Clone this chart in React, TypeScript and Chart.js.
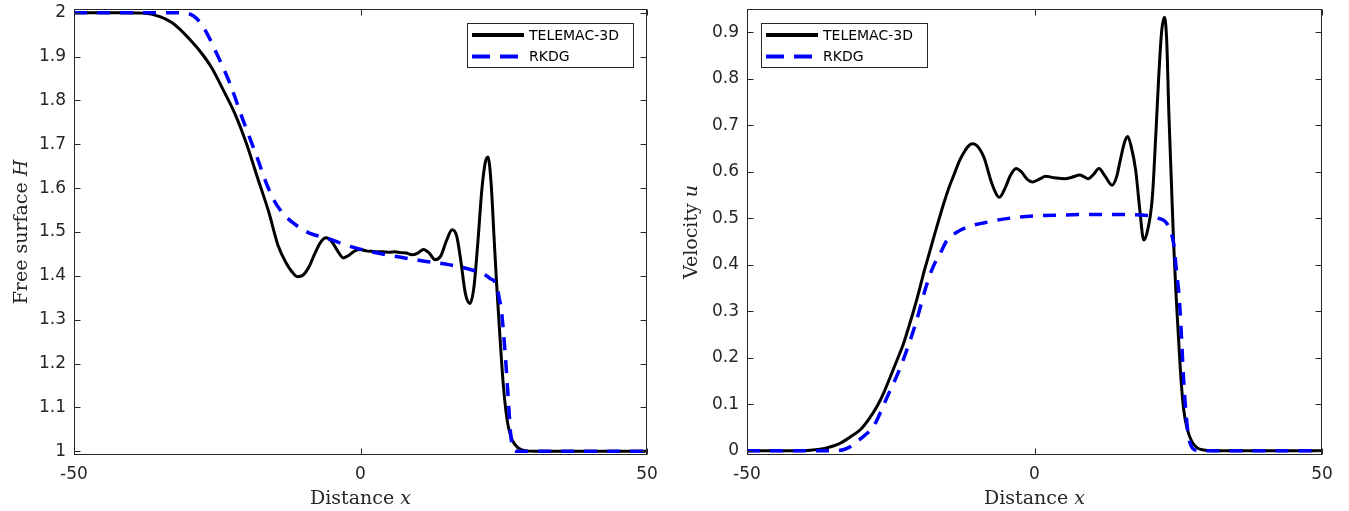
import React, { useEffect, useRef } from "react";
import { Chart, registerables } from "chart.js";

Chart.register(...registerables);

// ---------- data ----------
const xTicks = [-50, 0, 50];
const hTicks = [1, 1.1, 1.2, 1.3, 1.4, 1.5, 1.6, 1.7, 1.8, 1.9, 2];
const uTicks = [0, 0.1, 0.2, 0.3, 0.4, 0.5, 0.6, 0.7, 0.8, 0.9];

const seriesNames = ["TELEMAC-3D", "RKDG"];

const telemacHx = [
  -50, -42, -38, -35, -33, -31.5, -30, -28, -26, -24, -22, -20, -18, -16, -14.4, -13, -12, -11, -10, -9,
  -8, -7, -6, -5, -4, -3, -2, -1, 0, 1, 2, 3, 4, 5, 6, 7, 8, 9, 10, 11, 12, 13, 14, 15, 16, 16.8, 17.5,
  18.3, 19.1, 19.8, 20.5, 21.2, 21.8, 22.25, 22.8, 23.3, 23.75, 24.3, 24.9, 25.4, 25.8, 26.5, 27.5, 29, 31, 50,
];
const telemacH = [
  2.0, 2.0, 1.999, 1.991, 1.978, 1.962, 1.942, 1.912, 1.875, 1.825, 1.772, 1.705, 1.625, 1.545, 1.47, 1.43,
  1.41, 1.398, 1.402, 1.42, 1.45, 1.476, 1.487, 1.478, 1.457, 1.441, 1.447, 1.457, 1.46, 1.457, 1.456, 1.455,
  1.455, 1.454, 1.455, 1.453, 1.452, 1.448, 1.452, 1.46, 1.452, 1.437, 1.445, 1.48, 1.505, 1.49, 1.435, 1.36,
  1.337, 1.375, 1.48, 1.6, 1.66, 1.671, 1.61, 1.49, 1.383, 1.269, 1.155, 1.09, 1.056, 1.025, 1.008, 1.001, 1.0,
  1.0,
];

const rkdgHx = [
  -50, -32, -30.5, -29.2, -28, -26.8, -25.1, -22.8, -20.5, -18.1, -16.4, -15, -14, -13, -11.7, -10, -8.8, -6,
  -4.75, -3, -0.1, 3, 6.3, 10.4, 15.6, 20.3, 22, 22.6, 23.2, 23.75, 24.2, 24.6, 25.2, 25.8, 26.2, 26.6, 27.2, 50,
];
const rkdgH = [
  2.0, 2.0, 1.999, 1.993, 1.978, 1.953, 1.907, 1.839, 1.755, 1.672, 1.61, 1.57, 1.55, 1.535, 1.52, 1.505, 1.497,
  1.486, 1.481, 1.472, 1.461, 1.452, 1.444, 1.435, 1.425, 1.41, 1.4, 1.394, 1.39, 1.378, 1.35, 1.32, 1.231, 1.117,
  1.04, 1.008, 1.0, 1.0,
];

const telemacUx = [
  -50, -42, -39, -36.5, -35, -33.8, -32, -30.3, -28.8, -27.4, -26.2, -25.07, -23.9, -22.76, -21.9, -21.0, -20.1,
  -19.3, -18.4, -17.5, -16.6, -15.8, -14.9, -14.05, -13, -12.3, -11.5, -10.9, -10, -8.8, -7.4, -6.1, -5, -4.2,
  -3.2, -2.3, -1.2, -0.3, 1, 1.9, 3.5, 5.3, 6.5, 7.9, 9.3, 10.3, 11.2, 12.3, 13.5, 14.3, 14.9, 15.7, 16.2, 16.8,
  17.6, 18.3, 19.0, 19.6, 20.5, 21.1, 21.6, 22.1, 22.6, 23.0, 23.35, 23.8, 24.2, 24.6, 25.1, 25.5, 25.96, 26.6,
  27.4, 28.3, 29.4, 31, 50,
];
const telemacU = [
  0, 0, 0.001, 0.005, 0.01, 0.016, 0.03, 0.045, 0.068, 0.095, 0.125, 0.159, 0.195, 0.231, 0.265, 0.302, 0.342,
  0.381, 0.42, 0.46, 0.498, 0.531, 0.565, 0.592, 0.625, 0.641, 0.655, 0.66, 0.656, 0.631, 0.574, 0.545, 0.568,
  0.592, 0.607, 0.6, 0.583, 0.578, 0.585, 0.59, 0.587, 0.585, 0.588, 0.593, 0.585, 0.595, 0.607, 0.59, 0.571,
  0.59, 0.624, 0.665, 0.676, 0.655, 0.603, 0.52, 0.453, 0.47, 0.546, 0.68, 0.803, 0.9, 0.932, 0.88, 0.732, 0.58,
  0.445, 0.34, 0.231, 0.15, 0.087, 0.045, 0.019, 0.006, 0.0015, 0, 0,
];

const rkdgUx = [
  -50, -34.3, -33, -31.8, -30.9, -29.5, -28, -26.8, -25.6, -24.4, -23.3, -22.4, -21.6, -20.7, -19.85, -19, -18.1,
  -17.2, -16.4, -15.2, -13.5, -11.7, -10, -8, -6, -3, 0, 5, 10, 15, 19.6, 21.5, 22.8, 23.6, 24.2, 24.8, 25.1,
  25.5, 25.9, 26.3, 26.8, 27.5, 28.6, 50,
];
const rkdgU = [
  0, 0, 0.003, 0.01, 0.019, 0.033, 0.052, 0.082, 0.116, 0.148, 0.18, 0.21, 0.238, 0.272, 0.309, 0.347, 0.381,
  0.407, 0.424, 0.453, 0.47, 0.481, 0.487, 0.492, 0.497, 0.502, 0.505, 0.507, 0.508, 0.508, 0.506, 0.5, 0.492,
  0.474, 0.445, 0.374, 0.34, 0.26, 0.16, 0.087, 0.03, 0.005, 0, 0,
];

// ---------- styling ----------
const AXIS_COLOR = "#262626";
const TICK_FONT = { family: "'DejaVu Sans'", size: 17 };
const TITLE_SIZE = 19;
const LEGEND_FONT = "14px 'DejaVu Sans'";

type Part = { text: string; italic?: boolean };

type PanelSpec = {
  left: number;
  width: number;
  padRight: number;
  yAxisWidth: number;
  yMin: number;
  yMax: number;
  yTicks: number[];
  series: { x: number[]; y: number[] }[];
  xTitle: Part[];
  yTitle: Part[];
  yTitleGap: number;
  legendAnchor: "right" | "left";
};

const zip = (xs: number[], ys: number[]) => xs.map((x, i) => ({ x, y: ys[i] }));
const fmt = (v: number) => String(Math.round(v * 10) / 10);

function drawParts(ctx: CanvasRenderingContext2D, parts: Part[], cx: number, baseline: number) {
  const fontOf = (p: Part) => `${p.italic ? "italic " : ""}${TITLE_SIZE}px 'DejaVu Serif'`;
  let total = 0;
  const widths = parts.map((p) => {
    ctx.font = fontOf(p);
    const w = ctx.measureText(p.text).width;
    total += w;
    return w;
  });
  let x = cx - total / 2;
  ctx.textAlign = "left";
  ctx.textBaseline = "alphabetic";
  parts.forEach((p, i) => {
    ctx.font = fontOf(p);
    ctx.fillText(p.text, x, baseline);
    x += widths[i];
  });
}

function makeDecorPlugin(spec: PanelSpec) {
  return {
    id: "decor",
    afterDraw(chart: any) {
      const { ctx, chartArea: a, scales } = chart;
      const L = Math.round(a.left) + 0.5;
      const R = Math.round(a.right) - 0.5;
      const T = Math.round(a.top) + 0.5;
      const B = Math.round(a.bottom) - 0.5;
      ctx.save();
      ctx.strokeStyle = AXIS_COLOR;
      ctx.lineWidth = 1;
      ctx.setLineDash([]);
      ctx.strokeRect(L, T, R - L, B - T);
      const tl = 6;
      ctx.beginPath();
      spec.yTicks.forEach((v) => {
        const py = Math.round(scales.y.getPixelForValue(v)) + 0.5;
        ctx.moveTo(L, py);
        ctx.lineTo(L + tl, py);
        ctx.moveTo(R, py);
        ctx.lineTo(R - tl, py);
      });
      xTicks.forEach((v) => {
        const px = Math.round(scales.x.getPixelForValue(v)) + 0.5;
        ctx.moveTo(px, B);
        ctx.lineTo(px, B - tl);
        ctx.moveTo(px, T);
        ctx.lineTo(px, T + tl);
      });
      ctx.stroke();

      // axis titles
      ctx.fillStyle = AXIS_COLOR;
      drawParts(ctx, spec.xTitle, (a.left + a.right) / 2, a.bottom + 49);
      ctx.save();
      ctx.translate(a.left - spec.yTitleGap, (a.top + a.bottom) / 2);
      ctx.rotate(-Math.PI / 2);
      drawParts(ctx, spec.yTitle, 0, 0);
      ctx.restore();

      // legend
      const bw = 167;
      const bh = 45;
      const bx = spec.legendAnchor === "right" ? Math.round(a.right) - 13 - bw : Math.round(a.left) + 14;
      const by = Math.round(a.top) + 14;
      ctx.fillStyle = "#ffffff";
      ctx.fillRect(bx, by, bw, bh);
      ctx.strokeStyle = AXIS_COLOR;
      ctx.lineWidth = 1;
      ctx.strokeRect(bx + 0.5, by + 0.5, bw - 1, bh - 1);
      const rows = [by + 12, by + 33.5];
      chart.data.datasets.forEach((ds: any, i: number) => {
        const ry = rows[i];
        ctx.save();
        ctx.strokeStyle = ds.borderColor;
        ctx.lineWidth = 4;
        ctx.setLineDash(ds.borderDash ? [18, 10] : []);
        ctx.beginPath();
        ctx.moveTo(bx + 5, ry);
        ctx.lineTo(bx + 57, ry);
        ctx.stroke();
        ctx.restore();
        ctx.fillStyle = "#000000";
        ctx.font = LEGEND_FONT;
        ctx.textAlign = "left";
        ctx.textBaseline = "middle";
        ctx.fillText(ds.label, bx + 62, ry + 1);
      });
      ctx.restore();
    },
  };
}

function buildConfig(spec: PanelSpec): any {
  const [black, blue] = spec.series;
  return {
    type: "line",
    data: {
      datasets: [
        {
          label: seriesNames[0],
          data: zip(black.x, black.y),
          borderColor: "#000000",
          borderWidth: 3,
          pointRadius: 0,
          fill: false,
          cubicInterpolationMode: "monotone",
          order: 2,
        },
        {
          label: seriesNames[1],
          data: zip(blue.x, blue.y),
          borderColor: "#0000ff",
          borderWidth: 3.5,
          borderDash: [13, 10],
          pointRadius: 0,
          fill: false,
          cubicInterpolationMode: "monotone",
          order: 1,
        },
      ],
    },
    options: {
      animation: false,
      responsive: false,
      events: [],
      layout: { padding: { left: 0, top: 9, right: spec.padRight, bottom: 0 } },
      plugins: { legend: { display: false }, tooltip: { enabled: false }, title: { display: false } },
      scales: {
        x: {
          type: "linear",
          min: -50,
          max: 50,
          grid: { display: false, drawTicks: false },
          border: { display: false },
          ticks: { font: TICK_FONT, color: AXIS_COLOR, padding: 9, maxRotation: 0, autoSkip: false },
          afterBuildTicks: (s: any) => {
            s.ticks = xTicks.map((v) => ({ value: v }));
          },
          afterFit: (s: any) => {
            s.height = 56;
            s.paddingLeft = 0;
            s.paddingRight = 0;
          },
        },
        y: {
          type: "linear",
          min: spec.yMin,
          max: spec.yMax,
          grid: { display: false, drawTicks: false },
          border: { display: false },
          ticks: {
            font: TICK_FONT,
            color: AXIS_COLOR,
            padding: 8,
            autoSkip: false,
            callback: (v: any) => fmt(Number(v)),
          },
          afterBuildTicks: (s: any) => {
            s.ticks = spec.yTicks.map((v) => ({ value: v }));
          },
          afterFit: (s: any) => {
            s.width = spec.yAxisWidth;
            s.paddingTop = 0;
            s.paddingBottom = 0;
          },
        },
      },
    },
    plugins: [makeDecorPlugin(spec)],
  };
}

const panels: PanelSpec[] = [
  {
    left: 0,
    width: 674,
    padRight: 27,
    yAxisWidth: 74,
    yMin: 0.9916,
    yMax: 2.0084,
    yTicks: hTicks,
    series: [
      { x: telemacHx, y: telemacH },
      { x: rkdgHx, y: rkdgH },
    ],
    xTitle: [{ text: "Distance " }, { text: "x", italic: true }],
    yTitle: [{ text: "Free surface " }, { text: "H", italic: true }],
    yTitleGap: 47,
    legendAnchor: "right",
  },
  {
    left: 674,
    width: 675,
    padRight: 27,
    yAxisWidth: 73,
    yMin: -0.0093,
    yMax: 0.95,
    yTicks: uTicks,
    series: [
      { x: telemacUx, y: telemacU },
      { x: rkdgUx, y: rkdgU },
    ],
    xTitle: [{ text: "Distance " }, { text: "x", italic: true }],
    yTitle: [{ text: "Velocity " }, { text: "u", italic: true }],
    yTitleGap: 50,
    legendAnchor: "left",
  },
];

function Panel({ spec }: { spec: PanelSpec }) {
  const ref = useRef<HTMLCanvasElement | null>(null);
  useEffect(() => {
    if (!ref.current) return;
    const chart = new Chart(ref.current, buildConfig(spec));
    return () => chart.destroy();
  }, [spec]);
  return (
    <canvas
      ref={ref}
      width={spec.width}
      height={511}
      style={{ position: "absolute", left: spec.left, top: 0, width: spec.width, height: 511, display: "block" }}
    />
  );
}

export default function App() {
  return (
    <div style={{ position: "absolute", left: 0, top: 0, width: 1349, height: 511, background: "#ffffff", overflow: "hidden" }}>
      {panels.map((p, i) => (
        <Panel key={i} spec={p} />
      ))}
    </div>
  );
}
